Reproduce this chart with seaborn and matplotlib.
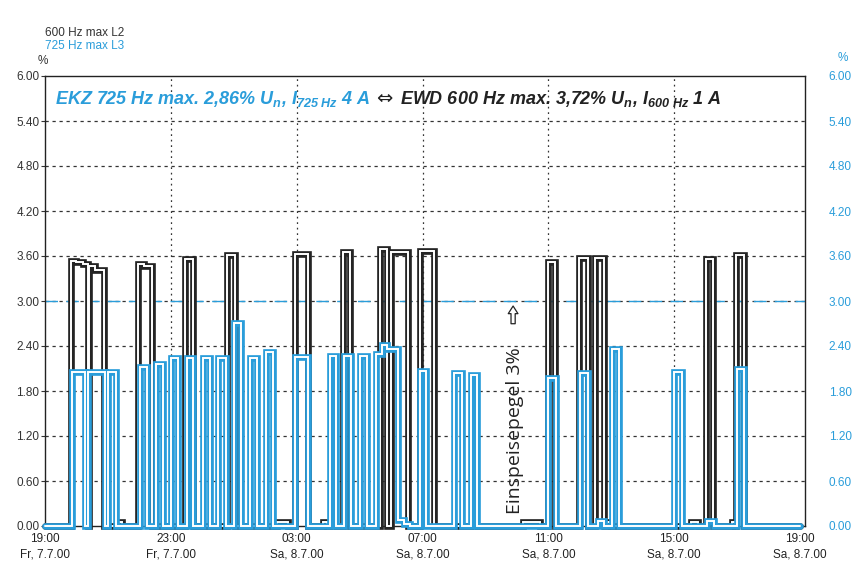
import matplotlib
matplotlib.use("Agg")
import matplotlib.pyplot as plt
import numpy as np
import pandas as pd
import seaborn as sns
from matplotlib import font_manager

# Messschrieb 600 Hz / 725 Hz Rundsteuerpegel, Fr 7.7.00 19:00 bis Sa 8.7.00 19:00
# Zeit in Stunden ab 19:00, Pegel in % Un

# 600 Hz max L2 (schwarz): Impulsbeginn, Impulsende, Pegel
black_start = [0.83, 1.00, 1.20, 1.41, 1.60, 2.28, 2.96, 3.15, 4.45, 5.79, 7.36, 7.95,
               8.84, 9.47, 10.65, 11.00, 11.92, 15.19, 15.98, 16.97, 17.48, 17.85,
               20.52, 21.00, 21.83, 21.96]
black_end = [1.00, 1.20, 1.36, 1.60, 1.88, 2.44, 3.15, 3.40, 4.71, 6.04, 7.73, 8.37,
             8.96, 9.69, 10.87, 11.54, 12.37, 15.73, 16.21, 17.25, 17.78, 17.98,
             20.77, 21.24, 21.94, 22.22]
black_level = [3.54, 3.52, 3.49, 3.47, 3.42, 0.05, 3.50, 3.47, 3.56, 3.62, 0.05, 3.63,
               0.05, 3.65, 3.70, 3.65, 3.67, 0.05, 3.52, 3.57, 3.57, 0.05,
               0.05, 3.56, 0.05, 3.61]

# 725 Hz max L3 (blau)
blue_start = [0.85, 1.36, 2.00, 3.02, 3.52, 4.01, 4.50, 5.01, 5.51, 6.02, 6.52, 7.02,
              7.95, 9.06, 9.51, 10.01, 10.52, 10.72, 10.86, 11.23, 11.40, 11.92,
              13.01, 13.53, 16.00, 17.01, 17.57, 18.03, 19.99, 21.04, 21.99]
blue_end = [1.27, 1.91, 2.25, 3.23, 3.76, 4.22, 4.71, 5.24, 5.74, 6.22, 6.75, 7.26,
            8.37, 9.24, 9.73, 10.23, 10.72, 10.86, 11.23, 11.40, 11.60, 12.11,
            13.25, 13.74, 16.23, 17.25, 17.78, 18.25, 20.24, 21.26, 22.22]
blue_level = [2.05, 2.06, 2.05, 2.12, 2.16, 2.24, 2.24, 2.24, 2.24, 2.71, 2.24, 2.32,
              2.26, 2.27, 2.27, 2.27, 2.30, 2.42, 2.36, 0.08, 0.03, 2.07,
              2.04, 2.01, 1.98, 2.04, 0.07, 2.36, 2.06, 0.07, 2.10]

tick_hours = [0, 4, 8, 12, 16, 20, 24]
tick_time = ["19:00", "23:00", "03:00", "07:00", "11:00", "15:00", "19:00"]
tick_day = ["Fr, 7.7.00", "Fr, 7.7.00", "Sa, 8.7.00", "Sa, 8.7.00",
            "Sa, 8.7.00", "Sa, 8.7.00", "Sa, 8.7.00"]
y_ticks = [0.0, 0.6, 1.2, 1.8, 2.4, 3.0, 3.6, 4.2, 4.8, 5.4, 6.0]
feed_level = 3.0

BLUE = "#2a9dda"
BLACK = "#242424"

sns.set_style("white")
installed = {f.name for f in font_manager.fontManager.ttflist}
NARROW = "Liberation Sans Narrow" if "Liberation Sans Narrow" in installed else "Liberation Sans"
TITLE_FS = 14 if NARROW == "Liberation Sans Narrow" else 13
plt.rcParams["font.family"] = [NARROW, "DejaVu Sans"]
plt.rcParams["mathtext.fontset"] = "custom"
for key in ("mathtext.rm", "mathtext.it", "mathtext.bf", "mathtext.sf"):
    plt.rcParams[key] = f"{NARROW}:italic:bold"


def steps(starts, ends, levels, t_end=24.0):
    xs, ys = [0.0], [0.0]
    for s, e, lev in zip(starts, ends, levels):
        if xs[-1] == s:
            ys[-1] = lev
        else:
            xs.append(s)
            ys.append(lev)
        xs.append(e)
        ys.append(0.0)
    xs.append(t_end)
    ys.append(0.0)
    return pd.DataFrame({"t": xs, "v": ys})


fig = plt.figure(figsize=(8.61, 5.79), dpi=100)
ax = fig.add_axes([45 / 861, 53 / 579, 760 / 861, 450 / 579])


def hollow(df, color):
    # doppelt gezeichnete Linie wie im Schreiber-Ausdruck
    for c, lw in ((color, 4.8), ("white", 1.4)):
        sns.lineplot(data=df, x="t", y="v", ax=ax, color=c, lw=lw,
                     drawstyle="steps-post", estimator=None, sort=False,
                     solid_joinstyle="miter", clip_on=False, zorder=3)


# Raster
for v in y_ticks[1:-1]:
    ax.axhline(v, color="#333333", lw=0.9, dashes=(2.6, 3), zorder=1)
for h in tick_hours[1:-1]:
    ax.axvline(h, color="#333333", lw=0.9, dashes=(1.4, 3), zorder=1)

ax.axhline(feed_level, color=BLUE, lw=1.0, dashes=(9, 6), zorder=2)

hollow(steps(black_start, black_end, black_level), BLACK)
hollow(steps(blue_start, blue_end, blue_level), BLUE)

ax.set_xlim(0, 24 * 760 / 755)
ax.set_ylim(0, 6)
ax.set_xlabel("")
ax.set_ylabel("")
ax.set_xticks(tick_hours)
ax.set_xticklabels([f"{a}\n{b}" for a, b in zip(tick_time, tick_day)],
                   fontsize=8.5, color="#222222", linespacing=1.35)
ax.set_yticks(y_ticks)
ax.set_yticklabels([f"{v:.2f}" for v in y_ticks], fontsize=8.5, color="#333333")
ax.tick_params(axis="x", length=0, pad=5)
ax.tick_params(axis="y", length=3, pad=1, color="#333333")
for sp in ax.spines.values():
    sp.set_color("#222222")
    sp.set_linewidth(1.0)

ax2 = ax.twinx()
ax2.set_ylim(0, 6)
ax2.set_yticks(y_ticks)
ax2.set_yticklabels([f"{v:.2f}" for v in y_ticks], fontsize=8.5, color=BLUE)
ax2.tick_params(axis="y", length=0, pad=17)
for sp in ax2.spines.values():
    sp.set_visible(False)

# Beschriftung Einspeisepegel
ax.text(14.94, 1.27, "Einspeisepegel 3%", rotation=90, ha="center", va="center",
        fontsize=14, family="Open Sans", color="#222222", zorder=4)
ax.annotate("", xy=(14.88, 2.97), xytext=(14.88, 2.66),
            arrowprops=dict(arrowstyle="simple,head_width=0.7,head_length=0.55,tail_width=0.3",
                            fc="white", ec="#222222", lw=0.9), zorder=4)

# Titelzeile im Diagramm
t1 = ax.text(0.32, 5.63, "EKZ 725 Hz max. 2,86% U$_n$, I$_{725\\ Hz}$ 4 A",
             color=BLUE, fontsize=TITLE_FS, fontweight="bold", fontstyle="italic",
             va="baseline", ha="left", zorder=5)
fig.canvas.draw()
inv = ax.transData.inverted()
x1 = t1.get_window_extent().x1
t2 = ax.text(inv.transform((x1 + 6, 0))[0], 5.63, "\u21d4", color="#222222",
             fontsize=TITLE_FS + 1, family="DejaVu Sans", va="baseline", ha="left", zorder=5)
fig.canvas.draw()
x2 = t2.get_window_extent().x1
ax.text(inv.transform((x2 + 7, 0))[0], 5.63, "EWD 600 Hz max. 3,72% U$_n$, I$_{600\\ Hz}$ 1 A",
        color="#222222", fontsize=TITLE_FS, fontweight="bold", fontstyle="italic",
        va="baseline", ha="left", zorder=5)

# Legende oben links
fig.text(45 / 861, 1 - 33 / 579, "600 Hz max L2", fontsize=8.5, color="#333333", va="center")
fig.text(45 / 861, 1 - 46 / 579, "725 Hz max L3", fontsize=8.5, color=BLUE, va="center")
fig.text(38 / 861, 1 - 61 / 579, "%", fontsize=8.5, color="#333333", va="center")
fig.text(843 / 861, 1 - 58 / 579, "%", fontsize=8.5, color=BLUE, va="center", ha="center")

fig.savefig("out.png", dpi=100, facecolor="white")
